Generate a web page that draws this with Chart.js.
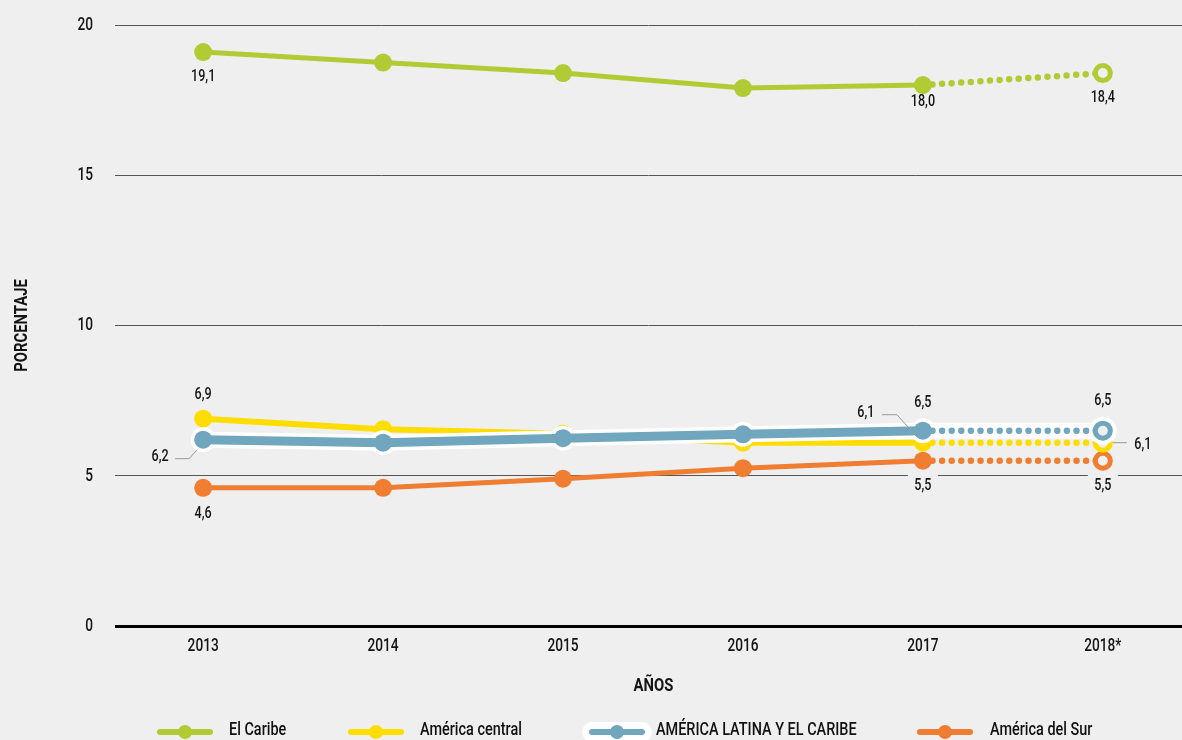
<!DOCTYPE html>
<html>
<head>
<meta charset="utf-8">
<script src="https://cdn.jsdelivr.net/npm/chart.js@4.4.0/dist/chart.umd.min.js"></script>
<style>
  html, body { margin: 0; padding: 0; background: #efefef; overflow: hidden; }
  #wrap { position: relative; width: 1182px; height: 740px; }
  canvas { display: block; }
  .lt { position: absolute; top: 718px; font-family: Roboto, "Noto Sans", sans-serif; font-weight: 500; font-size: 19px; line-height: 22px; color: #111; white-space: nowrap; transform: scaleX(0.76); transform-origin: 0 50%; }
  .ln { position: absolute; top: 729px; height: 6px; border-radius: 3px; }
  .dt { position: absolute; top: 725px; width: 14px; height: 14px; border-radius: 50%; }
  .halo { position: absolute; top: 722px; height: 20px; border-radius: 10px; background: #fff; }
</style>
</head>
<body>
<div id="wrap">
  <canvas id="c" width="1182" height="740"></canvas>
  <div id="legend"></div>
</div>
<script>
// ---- data ----
const years = ['2013', '2014', '2015', '2016', '2017', '2018*'];
const caribe = [19.1, 18.75, 18.4, 17.9, 18.0, 18.4];
const central = [6.9, 6.55, 6.4, 6.1, 6.1, 6.1];
const alc = [6.2, 6.1, 6.25, 6.38, 6.5, 6.5];
const sur = [4.6, 4.6, 4.9, 5.25, 5.5, 5.5];
const yTicks = [0, 5, 10, 15, 20];
const seriesNames = ['El Caribe', 'América central', 'AMÉRICA LATINA Y EL CARIBE', 'América del Sur'];
const xTitle = 'AÑOS';
const yTitle = 'PORCENTAJE';

// ---- styles ----
const BG = '#efefef';
const FONT = 'Roboto, "Noto Sans", sans-serif';
const TXT = '#141414';
const C_CAR = '#b1cb35';
const C_CEN = '#ffdd00';
const C_ALC = '#71a7be';
const C_SUR = '#ef7e32';

function ctext(ctx, txt, x, y, size, weight, align, sx, rot) {
  ctx.save();
  ctx.translate(x, y);
  if (rot) ctx.rotate(rot);
  ctx.scale(sx, 1);
  ctx.font = weight + ' ' + size + 'px ' + FONT;
  ctx.textAlign = align;
  ctx.textBaseline = 'middle';
  ctx.fillStyle = TXT;
  ctx.fillText(txt, 0, 0);
  ctx.restore();
}

function ds(label, values, color, width, order) {
  const n = values.length;
  return {
    label: label,
    data: values.map((v, i) => ({ x: i, y: v })),
    borderColor: color,
    borderWidth: width,
    borderCapStyle: 'round',
    borderJoinStyle: 'round',
    order: order,
    tension: 0,
    fill: false,
    pointRadius: values.map((v, i) => i === n - 1 ? 7.5 : 9),
    pointBackgroundColor: values.map((v, i) => i === n - 1 ? BG : color),
    pointBorderColor: color,
    pointBorderWidth: values.map((v, i) => i === n - 1 ? 5 : 0),
    segment: {
      borderDash: c => c.p1DataIndex === n - 1 ? [0, 9.6] : undefined,
      borderWidth: c => c.p1DataIndex === n - 1 ? 6.5 : width
    }
  };
}

const haloDs = {
  label: 'halo',
  data: alc.map((v, i) => ({ x: i, y: v })),
  borderColor: '#ffffff',
  borderWidth: 16,
  borderCapStyle: 'round',
  borderJoinStyle: 'round',
  order: 1,
  tension: 0,
  pointRadius: alc.map((v, i) => i === alc.length - 1 ? 14 : 12.5),
  pointBackgroundColor: '#ffffff',
  pointBorderWidth: 0
};

// value labels: which points get a label, and where
const labelSpecs = [
  { d: 0, i: 0, dx: 0, dy: 25 },
  { d: 0, i: 4, dx: 0, dy: 17 },
  { d: 0, i: 5, dx: 0, dy: 25 },
  { d: 1, i: 0, dx: 0, dy: -24 },
  { d: 1, i: 4, dx: -57, dy: -30, lead: [[-41, -28], [-26, -28], [-6, -6]] },
  { d: 1, i: 5, dx: 40, dy: 2, lead: [[10, 0], [24, 0]] },
  { d: 4, i: 0, dx: -43, dy: 17, lead: [[-28, 19], [-14, 19], [-6, 10]] },
  { d: 4, i: 4, dx: 0, dy: -28 },
  { d: 4, i: 5, dx: 0, dy: -30 },
  { d: 2, i: 0, dx: 0, dy: 26 },
  { d: 2, i: 4, dx: 0, dy: 25, bg: true },
  { d: 2, i: 5, dx: 0, dy: 25, bg: true }
];

const textPlugin = {
  id: 'texts',
  afterDraw(chart) {
    const ctx = chart.ctx;
    const xs = chart.scales.x, ys = chart.scales.y;
    const ca = chart.chartArea;
    xs.ticks.forEach((t, k) => {
      ctext(ctx, years[t.value], xs.getPixelForTick(k), ca.bottom + 20, 19, '500', 'center', 0.72);
    });
    ys.ticks.forEach((t, k) => {
      ctext(ctx, String(t.value), ca.left - 22, ys.getPixelForTick(k), 19, '500', 'right', 0.72);
    });
    ctext(ctx, xTitle, (ca.left + ca.right) / 2 + 5, ca.bottom + 60, 19, 'bold', 'center', 0.78);
    ctext(ctx, yTitle, 22, (ca.top + ca.bottom) / 2, 19, 'bold', 'center', 0.78, -Math.PI / 2);
  },
  afterDatasetsDraw(chart) {
    const ctx = chart.ctx;
    const xs = chart.scales.x, ys = chart.scales.y;
    labelSpecs.forEach(s => {
      const v = chart.data.datasets[s.d].data[s.i].y;
      const px = xs.getPixelForValue(s.i);
      const py = ys.getPixelForValue(v);
      const txt = v.toFixed(1).replace('.', ',');
      const tx = px + s.dx, ty = py + s.dy;
      if (s.bg) {
        ctx.fillStyle = BG;
        ctx.fillRect(tx - 15, ty - 13, 30, 26);
      }
      if (s.lead) {
        ctx.save();
        ctx.strokeStyle = '#999';
        ctx.lineWidth = 1;
        ctx.beginPath();
        s.lead.forEach((p, k) => {
          if (k === 0) ctx.moveTo(px + p[0], py + p[1]);
          else ctx.lineTo(px + p[0], py + p[1]);
        });
        ctx.stroke();
        ctx.restore();
      }
      ctext(ctx, txt, tx, ty, 17, '500', 'center', 0.74);
    });
  }
};

new Chart(document.getElementById('c'), {
  type: 'line',
  data: {
    datasets: [
      ds(seriesNames[0], caribe, C_CAR, 5, 5),
      ds(seriesNames[1], central, C_CEN, 6, 3),
      ds(seriesNames[3], sur, C_SUR, 5, 4),
      haloDs,
      ds(seriesNames[2], alc, C_ALC, 9, 0)
    ]
  },
  options: {
    responsive: false,
    animation: false,
    events: [],
    layout: { autoPadding: false, padding: { top: 25, right: 0, bottom: 40, left: 0 } },
    plugins: { legend: { display: false }, tooltip: { enabled: false } },
    scales: {
      x: {
        type: 'linear',
        min: -0.49,
        max: 5.44,
        afterBuildTicks: s => { s.ticks = years.map((_, i) => ({ value: i })); },
        afterFit: s => { s.height = 74; s.paddingLeft = 0; s.paddingRight = 0; },
        ticks: { display: false },
        grid: { display: false },
        border: { display: false }
      },
      y: {
        min: 0,
        max: 20,
        afterBuildTicks: s => { s.ticks = yTicks.map(v => ({ value: v })); },
        afterFit: s => { s.width = 115; s.paddingTop = 0; s.paddingBottom = 0; },
        ticks: { display: false },
        grid: {
          drawTicks: false,
          color: c => c.tick && c.tick.value === 0 ? '#000' : '#555',
          lineWidth: c => c.tick && c.tick.value === 0 ? 3 : 1
        },
        border: { display: false }
      }
    }
  },
  plugins: [textPlugin]
});

// HTML legend
const legendItems = [
  { name: seriesNames[0], color: C_CAR, lx: 157, tx: 229 },
  { name: seriesNames[1], color: C_CEN, lx: 348, tx: 420 },
  { name: seriesNames[2], color: C_ALC, lx: 589, tx: 656, halo: true },
  { name: seriesNames[3], color: C_SUR, lx: 917, tx: 990 }
];
const lg = document.getElementById('legend');
legendItems.forEach(it => {
  if (it.halo) {
    const h = document.createElement('div');
    h.className = 'halo';
    h.style.left = (it.lx - 7) + 'px';
    h.style.width = '70px';
    lg.appendChild(h);
  }
  const l = document.createElement('div');
  l.className = 'ln';
  l.style.left = it.lx + 'px';
  l.style.width = '56px';
  l.style.background = it.color;
  lg.appendChild(l);
  const d = document.createElement('div');
  d.className = 'dt';
  d.style.left = (it.lx + 21) + 'px';
  d.style.background = it.color;
  lg.appendChild(d);
  const t = document.createElement('div');
  t.className = 'lt';
  t.style.left = it.tx + 'px';
  t.textContent = it.name;
  lg.appendChild(t);
});
</script>
</body>
</html>
